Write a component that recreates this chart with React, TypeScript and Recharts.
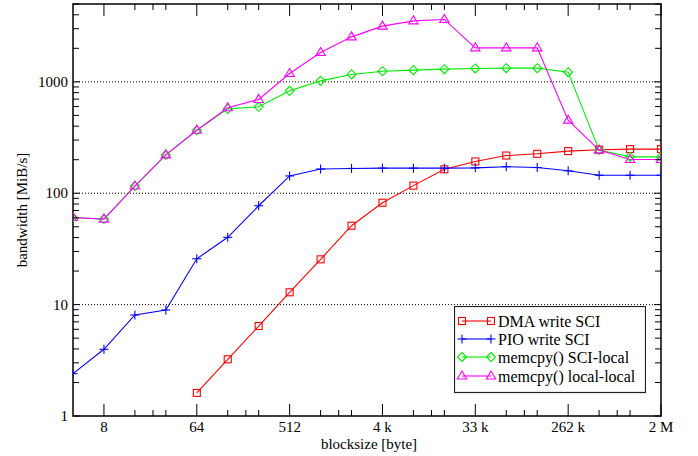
import React from 'react';
import {
  ComposedChart,
  Line,
  XAxis,
  YAxis,
  ReferenceLine,
  ReferenceArea,
  Legend,
} from 'recharts';

// Block sizes in bytes (powers of two, 4 B .. 2 MiB)
const blocksizes = [
  4, 8, 16, 32, 64, 128, 256, 512, 1024, 2048, 4096, 8192, 16384, 32768,
  65536, 131072, 262144, 524288, 1048576, 2097152,
];

// Bandwidth in MiB/s for each transfer method
const dmaWriteSci = [
  null, null, null, null, 1.61, 3.23, 6.42, 12.9, 25.5, 51.1, 82.2, 117, 164,
  193, 218, 226, 239, 246, 249, 249,
];
const pioWriteSci = [
  2.4, 3.97, 8.07, 8.95, 25.8, 40.2, 77.2, 143, 165, 167, 168, 168, 168, 169,
  173, 170, 159, 145, 145, 145,
];
const memcpySciLocal = [
  60.6, 58.6, 116, 221, 368, 572, 597, 830, 1021, 1165, 1247, 1274, 1300, 1319,
  1327, 1327, 1222, 244, 212, 212,
];
const memcpyLocalLocal = [
  60.6, 58.6, 116, 221, 368, 585, 695, 1189, 1836, 2535, 3163, 3530, 3634,
  2020, 2020, 2020, 453, 244, 201, 201,
];

// Axis ticks
const xMajorTicks = [8, 64, 512, 4096, 32768, 262144, 2097152];
const xMajorLabels = ['8', '64', '512', '4 k', '33 k', '262 k', '2 M'];
const yMajorTicks = [1, 10, 100, 1000];
const yMajorLabels = ['1', '10', '100', '1000'];
const yGridValues = [10, 100, 1000];

const xMinorTicks: number[] = [];
xMajorTicks.slice(0, -1).forEach((m) => [2, 3, 4].forEach((k) => xMinorTicks.push(m * k)));
const yMinorTicks: number[] = [];
[1, 10, 100, 1000].forEach((d) =>
  [2, 3, 4, 5, 6, 7, 8, 9].forEach((k) => {
    if (d * k <= 5000) yMinorTicks.push(d * k);
  })
);
const xTicks = [...xMajorTicks, ...xMinorTicks].sort((a, b) => a - b);
const yTicks = [...yMajorTicks, ...yMinorTicks].sort((a, b) => a - b);

const data = blocksizes.map((size, i) => ({
  size,
  dma: dmaWriteSci[i],
  pio: pioWriteSci[i],
  sciLocal: memcpySciLocal[i],
  localLocal: memcpyLocalLocal[i],
}));

const FONT = 'Liberation Serif';
const textStyle = { fontFamily: FONT, fontSize: 15 };
const W = 698;
const H = 456;
const PLOT_LEFT = 73;
const PLOT_RIGHT = 661;
const PLOT_TOP = 4;
const PLOT_BOTTOM = 416;

const RED = '#ff0000';
const BLUE = '#0000ff';
const GREEN = '#00ee00';
const MAGENTA = '#ff00ff';

type MarkerKind = 'square' | 'plus' | 'diamond' | 'triangle';

function Marker({ kind, cx, cy, color }: { kind: MarkerKind; cx: number; cy: number; color: string }) {
  const sw = 1.1;
  if (kind === 'square') {
    return <rect x={cx - 3.5} y={cy - 3.5} width={7} height={7} fill="none" stroke={color} strokeWidth={sw} />;
  }
  if (kind === 'plus') {
    return (
      <g stroke={color} strokeWidth={sw}>
        <line x1={cx - 4.5} y1={cy} x2={cx + 4.5} y2={cy} />
        <line x1={cx} y1={cy - 4.5} x2={cx} y2={cy + 4.5} />
      </g>
    );
  }
  if (kind === 'diamond') {
    const r = 4.5;
    return (
      <polygon
        points={`${cx},${cy - r} ${cx + r},${cy} ${cx},${cy + r} ${cx - r},${cy}`}
        fill="none"
        stroke={color}
        strokeWidth={sw}
      />
    );
  }
  return (
    <polygon
      points={`${cx},${cy - 5} ${cx + 4.7},${cy + 3} ${cx - 4.7},${cy + 3}`}
      fill="none"
      stroke={color}
      strokeWidth={sw}
    />
  );
}

const makeDot = (kind: MarkerKind, color: string) => (props: any) => {
  const { cx, cy, value, index } = props;
  if (value == null || cx == null || cy == null || Number.isNaN(cy)) {
    return <g key={`e-${kind}-${index}`} />;
  }
  return (
    <g key={`m-${kind}-${index}`}>
      <Marker kind={kind} cx={cx} cy={cy} color={color} />
    </g>
  );
};

const series: { key: string; name: string; color: string; marker: MarkerKind }[] = [
  { key: 'dma', name: 'DMA write SCI', color: RED, marker: 'square' },
  { key: 'pio', name: 'PIO write SCI', color: BLUE, marker: 'plus' },
  { key: 'sciLocal', name: 'memcpy() SCI-local', color: GREEN, marker: 'diamond' },
  { key: 'localLocal', name: 'memcpy() local-local', color: MAGENTA, marker: 'triangle' },
];

function XTick(props: any) {
  const { x, payload } = props;
  const v = payload.value;
  const idx = xMajorTicks.indexOf(v);
  const len = idx >= 0 ? 12 : 6;
  return (
    <g>
      <line x1={x} y1={PLOT_BOTTOM} x2={x} y2={PLOT_BOTTOM - len} stroke="#000" strokeWidth={1} />
      <line x1={x} y1={PLOT_TOP} x2={x} y2={PLOT_TOP + len} stroke="#000" strokeWidth={1} />
      {idx >= 0 && (
        <text x={x} y={PLOT_BOTTOM + 16} textAnchor="middle" style={textStyle} fill="#000">
          {xMajorLabels[idx]}
        </text>
      )}
    </g>
  );
}

function YTick(props: any) {
  const { y, payload } = props;
  const v = payload.value;
  const idx = yMajorTicks.indexOf(v);
  const len = idx >= 0 ? 7 : 6;
  return (
    <g>
      <line x1={PLOT_LEFT} y1={y} x2={PLOT_LEFT + len} y2={y} stroke="#000" strokeWidth={1} />
      <line x1={PLOT_RIGHT} y1={y} x2={PLOT_RIGHT - len} y2={y} stroke="#000" strokeWidth={1} />
      {idx >= 0 && (
        <text x={PLOT_LEFT - 5} y={y + 5} textAnchor="end" style={textStyle} fill="#000">
          {yMajorLabels[idx]}
        </text>
      )}
    </g>
  );
}

function LegendBox() {
  const rows = [15, 33, 51, 70];
  return (
    <svg width={192} height={88} style={{ display: 'block' }}>
      <rect x={0.5} y={0.5} width={191} height={86} fill="#fff" stroke="#222" strokeWidth={1.2} />
      {series.map((s, i) => (
        <g key={s.key}>
          <line x1={8} y1={rows[i]} x2={37} y2={rows[i]} stroke={s.color} strokeWidth={1.1} />
          <Marker kind={s.marker} cx={8} cy={rows[i]} color={s.color} />
          <Marker kind={s.marker} cx={37} cy={rows[i]} color={s.color} />
          <text x={44} y={rows[i] + 5.5} style={{ fontFamily: FONT, fontSize: 16 }} fill="#000">
            {s.name}
          </text>
        </g>
      ))}
    </svg>
  );
}

export default function App() {
  return (
    <div style={{ position: 'absolute', left: 0, top: 0, width: W, height: H, background: '#fff' }}>
      <ComposedChart
        width={W}
        height={H}
        data={data}
        margin={{ top: PLOT_TOP, right: W - PLOT_RIGHT, bottom: 0, left: 0 }}
      >
        <XAxis
          dataKey="size"
          type="number"
          scale="log"
          domain={[4, 2097152]}
          ticks={xTicks}
          interval={0}
          height={H - PLOT_BOTTOM}
          axisLine={false}
          tickLine={false}
          tick={<XTick />}
          allowDataOverflow
          label={{
            content: (p: any) => {
              const vb = p.viewBox || {};
              return (
                <text
                  x={(vb.x ?? PLOT_LEFT) + (vb.width ?? PLOT_RIGHT - PLOT_LEFT) / 2 + 2}
                  y={449}
                  textAnchor="middle"
                  style={textStyle}
                  fill="#000"
                >
                  blocksize [byte]
                </text>
              );
            },
          }}
        />
        <YAxis
          type="number"
          scale="log"
          domain={[1, 5000]}
          ticks={yTicks}
          interval={0}
          width={PLOT_LEFT}
          axisLine={false}
          tickLine={false}
          tick={<YTick />}
          allowDataOverflow
          label={{
            content: () => (
              <text
                x={0}
                y={0}
                transform={`translate(27, ${(PLOT_TOP + PLOT_BOTTOM) / 2}) rotate(-90)`}
                textAnchor="middle"
                style={textStyle}
                fill="#000"
              >
                bandwidth [MiB/s]
              </text>
            ),
          }}
        />
        {yGridValues.map((v) => (
          <ReferenceLine key={v} y={v} stroke="#000" strokeWidth={1} strokeDasharray="1 2" />
        ))}
        {series.map((s) => (
          <Line
            key={s.key}
            dataKey={s.key}
            name={s.name}
            stroke={s.color}
            strokeWidth={1.1}
            isAnimationActive={false}
            connectNulls={false}
            dot={makeDot(s.marker, s.color)}
            activeDot={false}
          />
        ))}
        <ReferenceArea
          x1={4}
          x2={2097152}
          y1={1}
          y2={5000}
          fill="none"
          fillOpacity={0}
          stroke="#000"
          strokeWidth={1.5}
        />
        <Legend
          layout="vertical"
          align="center"
          verticalAlign="middle"
          wrapperStyle={{ position: 'absolute', left: 454, top: 306, width: 192, height: 88 }}
          content={() => <LegendBox />}
        />
      </ComposedChart>
    </div>
  );
}
